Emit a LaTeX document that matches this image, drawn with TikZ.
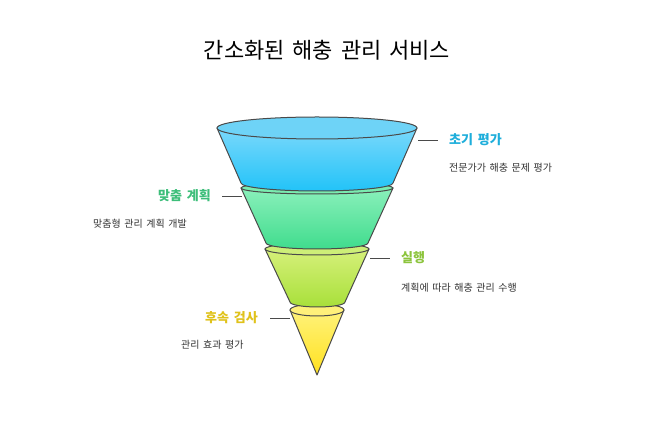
\documentclass[tikz,border=0pt]{standalone}
\usepackage{fontspec}
\setmainfont[WordSpace=1.6]{Noto Sans CJK KR}
\definecolor{edge}{HTML}{4A4A4A}
\definecolor{cblue}{HTML}{1EAEDB}
\definecolor{cgreen}{HTML}{3DBE7A}
\definecolor{clime}{HTML}{8CC43C}
\definecolor{cyel}{HTML}{E0C21A}
\definecolor{b1}{HTML}{7AD8FB}\definecolor{b2}{HTML}{22C3F8}\definecolor{b3}{HTML}{6ED3F7}
\definecolor{g1}{HTML}{8AF0BB}\definecolor{g2}{HTML}{40DC8D}\definecolor{g3}{HTML}{7AECB0}
\definecolor{l1}{HTML}{D6F07A}\definecolor{l2}{HTML}{A8E03A}\definecolor{l3}{HTML}{CDEE78}
\definecolor{y1}{HTML}{FFF27A}\definecolor{y2}{HTML}{FFE11F}\definecolor{y3}{HTML}{FFF07A}
\tikzset{seg/.style={draw=edge,line width=1pt,line join=round},
 ttl/.style={font=\bfseries\fontsize{13}{15}\selectfont,inner sep=0pt},
 dsc/.style={font=\fontsize{10}{12}\selectfont,text=black!80,inner sep=0pt,anchor=west},
 lead/.style={draw=edge,line width=0.8pt}}
\begin{document}
\begin{tikzpicture}[x=1pt,y=1pt]
\useasboundingbox[fill=white] (0,0) rectangle (655,425);
\node (title) at (327,375) {\fontsize{22}{26}\selectfont 간소화된 해충 관리 서비스};
% segment 4 yellow
\path[seg,top color=y1,bottom color=y2,shading=axis]
 (290,115) -- (317,50) -- (344,115) -- cycle;
\path[seg,fill=y3] (317,115) ellipse[x radius=27,y radius=6];
% segment 3 lime
\path[seg,top color=l1,bottom color=l2,shading=axis]
 (265,176) -- (290,123) arc[start angle=180,end angle=360,x radius=27.5,y radius=5] -- (369,176) -- cycle;
\path[seg,fill=l3] (317,176) ellipse[x radius=52,y radius=6];
% segment 2 green
\path[seg,top color=g1,bottom color=g2,shading=axis]
 (241,237) -- (266,182) arc[start angle=180,end angle=360,x radius=51,y radius=6] -- (393,237) -- cycle;
\path[seg,fill=g3] (317,237) ellipse[x radius=76,y radius=6];
% segment 1 blue
\path[seg,top color=b1,bottom color=b2,shading=axis]
 (217,297) -- (241,242) arc[start angle=180,end angle=360,x radius=76,y radius=8] -- (417,297) -- cycle;
\path[seg,fill=b3] (317,297) ellipse[x radius=100,y radius=11];
% labels
\coordinate (c1) at (418,285); \coordinate (c2) at (242,229);
\coordinate (c3) at (370,167); \coordinate (c4) at (290,107);
\node[ttl,text=cblue,anchor=west] (t1) at (449,285) {초기 평가};
\node[dsc] (d1) at (449,257) {전문가가 해충 문제 평가};
\node[ttl,text=cgreen,anchor=east] (t2) at (211,229) {맞춤 계획};
\node[dsc] (d2) at (93,201) {맞춤형 관리 계획 개발};
\node[ttl,text=clime,anchor=west] (t3) at (401,167) {실행};
\node[dsc] (d3) at (401,137) {계획에 따라 해충 관리 수행};
\node[ttl,text=cyel,anchor=east] (t4) at (258,107) {후속 검사};
\node[dsc] (d4) at (181,80) {관리 효과 평가};
\draw[lead] (c1) -- ++(20,0);
\draw[lead] (c2) -- ++(-20,0);
\draw[lead] (c3) -- ++(20,0);
\draw[lead] (c4) -- ++(-20,0);
\end{tikzpicture}
\end{document}
